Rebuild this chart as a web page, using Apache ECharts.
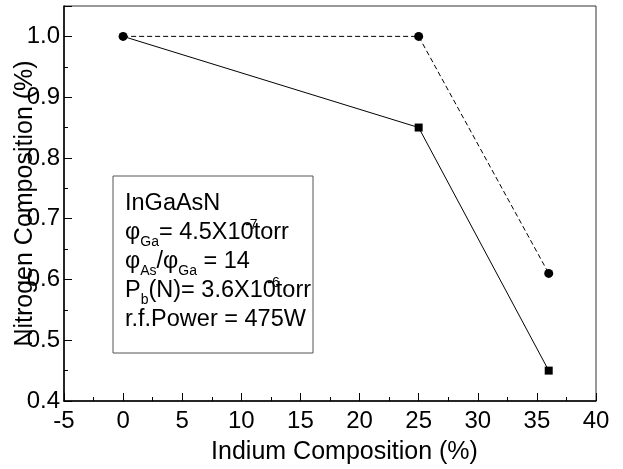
<!DOCTYPE html>
<html>
<head>
<meta charset="utf-8">
<script src="https://cdn.jsdelivr.net/npm/echarts@6/dist/echarts.min.js"></script>
<style>
html,body{margin:0;padding:0;background:#fff;}
#c{width:623px;height:469px;}
</style>
</head>
<body>
<div id="c"></div>
<script>
// Data
const indium = [0, 25, 36];
const nitrogenSquare = [1.0, 0.85, 0.45];   // solid line, squares
const nitrogenCircle = [1.0, 1.0, 0.61];    // dashed line, circles
const xTicks = [-5, 0, 5, 10, 15, 20, 25, 30, 35, 40];
const yTicks = [0.4, 0.5, 0.6, 0.7, 0.8, 0.9, 1.0];

const FONT = '"Liberation Sans", Arial, sans-serif';
const chart = echarts.init(document.getElementById('c'));

const ctx = document.createElement('canvas').getContext('2d');
function tw(t, size) { ctx.font = size + 'px ' + FONT; return ctx.measureText(t).width; }

const MAIN = 23.5, SUB = 14;
const rich = {
  m: { fontSize: MAIN, fontFamily: FONT, color: '#000', lineHeight: 32 },
  s: { fontSize: SUB, fontFamily: FONT, color: '#000', lineHeight: 14, verticalAlign: 'bottom' }
};
const tx = 125;
const lineY = [204, 233, 262, 291, 320];

function richText(str, y) {
  return { type: 'text', x: tx, y: y, z: 10,
    style: { text: str, rich: rich, x: 0, y: 0, verticalAlign: 'middle', align: 'left' } };
}
function supText(str, x, y) {
  return { type: 'text', x: x, y: y, z: 11,
    style: { text: str, fontSize: SUB, fontFamily: FONT, fill: '#000', align: 'right', verticalAlign: 'middle' } };
}

const sup1x = tx + tw('φ', MAIN) + tw('Ga', SUB) + tw('= 4.5X10', MAIN);
const sup2x = tx + tw('P', MAIN) + tw('b', SUB) + tw('(N)= 3.6X10', MAIN);

const option = {
  animation: false,
  backgroundColor: '#fff',
  grid: { left: 64, right: 27, top: 6, bottom: 68, show: true, borderColor: '#333', borderWidth: 1,
          outerBoundsMode: 'none', containLabel: false },
  xAxis: {
    type: 'value', min: xTicks[0], max: xTicks[xTicks.length - 1], interval: 5,
    name: 'Indium Composition (%)', nameLocation: 'middle', nameGap: 39, nameMoveOverlap: false,
    nameTextStyle: { fontSize: 25, fontFamily: FONT, color: '#000', padding: [0, 0, 0, 29] },
    axisLine: { show: true, onZero: false, lineStyle: { color: '#000', width: 1.5 } },
    axisTick: { show: true, inside: true, length: 8, lineStyle: { color: '#000', width: 1 } },
    minorTick: { show: true, splitNumber: 2, length: 4, lineStyle: { color: '#000', width: 1 } },
    axisLabel: { fontSize: 24, fontFamily: FONT, color: '#000', margin: 8,
      formatter: v => xTicks.includes(v) ? String(v) : '' },
    splitLine: { show: false }
  },
  yAxis: {
    type: 'value', min: 0.4, max: 1.05, interval: 0.1,
    name: 'Nitrogen Composition (%)', nameLocation: 'middle', nameGap: 26, nameMoveOverlap: false,
    nameTextStyle: { fontSize: 25, fontFamily: FONT, color: '#000' },
    axisLine: { show: true, onZero: false, lineStyle: { color: '#000', width: 1.5 } },
    axisTick: { show: true, inside: true, length: 8, lineStyle: { color: '#000', width: 1 } },
    minorTick: { show: true, splitNumber: 2, length: 4, lineStyle: { color: '#000', width: 1 } },
    axisLabel: { fontSize: 24, fontFamily: FONT, color: '#000', margin: 4,
      formatter: v => yTicks.some(t => Math.abs(t - v) < 1e-9) ? v.toFixed(1) : '' },
    splitLine: { show: false }
  },
  series: [
    {
      type: 'line', data: indium.map((x, i) => [x, nitrogenSquare[i]]),
      symbol: 'rect', symbolSize: (v, p) => p.dataIndex === 0 ? 0 : 8,
      itemStyle: { color: '#000' }, lineStyle: { color: '#000', width: 1, type: 'solid' },
      z: 2
    },
    {
      type: 'line', data: indium.map((x, i) => [x, nitrogenCircle[i]]),
      symbol: 'circle', symbolSize: 9,
      itemStyle: { color: '#000' }, lineStyle: { color: '#000', width: 1, type: [5, 3] },
      z: 3
    }
  ],
  graphic: [
    { type: 'rect', shape: { x: 113, y: 176, width: 200, height: 177 },
      style: { fill: 'rgba(255,255,255,0)', stroke: '#555', lineWidth: 1 }, z: 5 },
    richText('{m|InGaAsN}', lineY[0]),
    richText('{m|φ}{s|Ga}{m|= 4.5X10torr}', lineY[1]),
    supText('-7', sup1x + 4, lineY[1] - 8),
    richText('{m|φ}{s|As}{m|/φ}{s|Ga}{m| = 14}', lineY[2]),
    richText('{m|P}{s|b}{m|(N)= 3.6X10torr}', lineY[3]),
    supText('-6', sup2x + 4, lineY[3] - 8),
    richText('{m|r.f.Power = 475W}', lineY[4])
  ]
};
chart.setOption(option);
</script>
</body>
</html>
